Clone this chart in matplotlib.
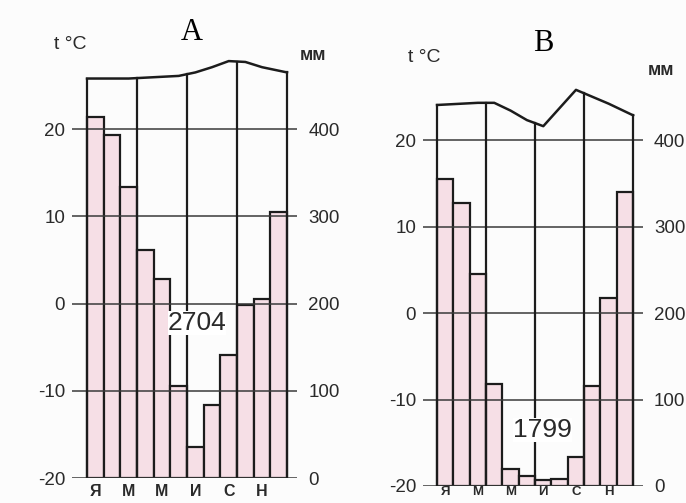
import matplotlib.pyplot as plt
import numpy as np

plt.rcParams['font.family'] = ['Liberation Sans', 'DejaVu Sans']

# данные (осадки, мм и температура, °C по месяцам)
months = np.arange(12)
month_labels = ['Я', 'М', 'М', 'И', 'С', 'Н']
temp_ticks = [-20, -10, 0, 10, 20]
precip_ticks = [0, 100, 200, 300, 400]

precip_a = [414, 393, 334, 261, 228, 106, 35, 84, 141, 198, 205, 305]
temp_a = [25.8, 25.8, 25.8, 25.9, 26.0, 26.1, 26.5, 27.1, 27.8, 27.7, 27.1, 26.7]
total_a = 2704

precip_b = [355, 327, 245, 118, 20, 12, 7, 8, 34, 116, 217, 340]
temp_b = [24.1, 24.2, 24.3, 24.3, 23.4, 22.3, 21.6, 23.7, 25.8, 25.0, 24.2, 23.3]
total_b = 1799

pink = '#f6dfe6'
ink = '#1c1c1c'


def draw_panel(ax, temps, precip, total, letter, total_xy, xlim, mon_size, mon_pad):
    ax.set_xlim(*xlim)
    ax.set_ylim(-20, 28.5)
    # столбики осадков: 10 мм = 1 °C, 0 мм = -20 °C
    ax.bar(months + 0.5, np.array(precip) / 10, bottom=-20, width=1,
           color=pink, edgecolor=ink, linewidth=1.6, zorder=2)
    for t in temp_ticks:
        ax.axhline(t, color='#3a3a3a', linewidth=1.1, zorder=3)
    # линия температуры
    x = np.concatenate([[0], months + 0.5, [12]])
    t = np.concatenate([[temps[0] - (temps[1] - temps[0]) / 2], temps,
                        [temps[-1] + (temps[-1] - temps[-2]) / 2]])
    ax.plot(x, t, color=ink, linewidth=1.8, zorder=4)
    for q in [0, 3, 6, 9, 12]:
        ax.plot([q, q], [-20, np.interp(q, x, t)], color=ink, linewidth=1.6, zorder=4)

    ax.text(total_xy[0], total_xy[1], str(total), fontsize=19, color='#2a2a2a',
            ha='center', va='center', zorder=5,
            bbox=dict(facecolor='white', edgecolor='none', pad=0))

    ax.set_yticks(temp_ticks)
    ax.set_yticklabels([str(v) for v in temp_ticks])
    ax.set_xticks(months[::2] + 0.5)
    ax.set_xticklabels(month_labels, fontweight='bold')
    ax.tick_params(axis='y', length=0, pad=5, labelsize=13.5, colors='#2a2a2a')
    ax.tick_params(axis='x', length=0, pad=mon_pad, labelsize=mon_size, colors='#2a2a2a')
    for s in ax.spines.values():
        s.set_visible(False)

    tw = ax.twinx()
    tw.set_ylim(0, 485)
    tw.set_yticks(precip_ticks)
    tw.set_yticklabels([str(v) for v in precip_ticks])
    tw.tick_params(axis='y', length=0, pad=8, labelsize=13.5, colors='#2a2a2a')
    for s in tw.spines.values():
        s.set_visible(False)

    return ax.text(0.5, 1.0, letter, transform=ax.transAxes, fontsize=22,
                   family=['Liberation Serif', 'DejaVu Serif'], ha='center', va='center')


fig = plt.figure(figsize=(6.86, 5.03), dpi=100)
fig.patch.set_facecolor('#fcfcfc')

ax_a = fig.add_axes([0.105, 0.0497, 0.328, 0.841])
ax_b = fig.add_axes([0.6166, 0.0338, 0.3207, 0.834])
for a in (ax_a, ax_b):
    a.set_facecolor('none')

title_a = draw_panel(ax_a, temp_a, precip_a, total_a, 'A', (6.6, -2.2), (-0.9, 12.6), 11.5, 4)
title_b = draw_panel(ax_b, temp_b, precip_b, total_b, 'B', (6.45, -13.5), (-0.86, 12.6), 9.5, 0)

# подписи осей
title_a.set_position((0.533, 1.052))
title_b.set_position((0.545, 1.054))
ax_a.text(-0.01, 1.024, 't °C', transform=ax_a.transAxes, fontsize=14,
          ha='center', va='center', color='#2a2a2a')
ax_b.text(0.005, 1.022, 't °C', transform=ax_b.transAxes, fontsize=14,
          ha='center', va='center', color='#2a2a2a')
ax_a.text(1.071, 0.998, 'мм', transform=ax_a.transAxes, fontsize=13,
          fontweight='bold', ha='center', va='center', color='#2a2a2a')
ax_b.text(1.082, 0.991, 'мм', transform=ax_b.transAxes, fontsize=13,
          fontweight='bold', ha='center', va='center', color='#2a2a2a')

plt.savefig('out.png', dpi=100, facecolor=fig.get_facecolor())
